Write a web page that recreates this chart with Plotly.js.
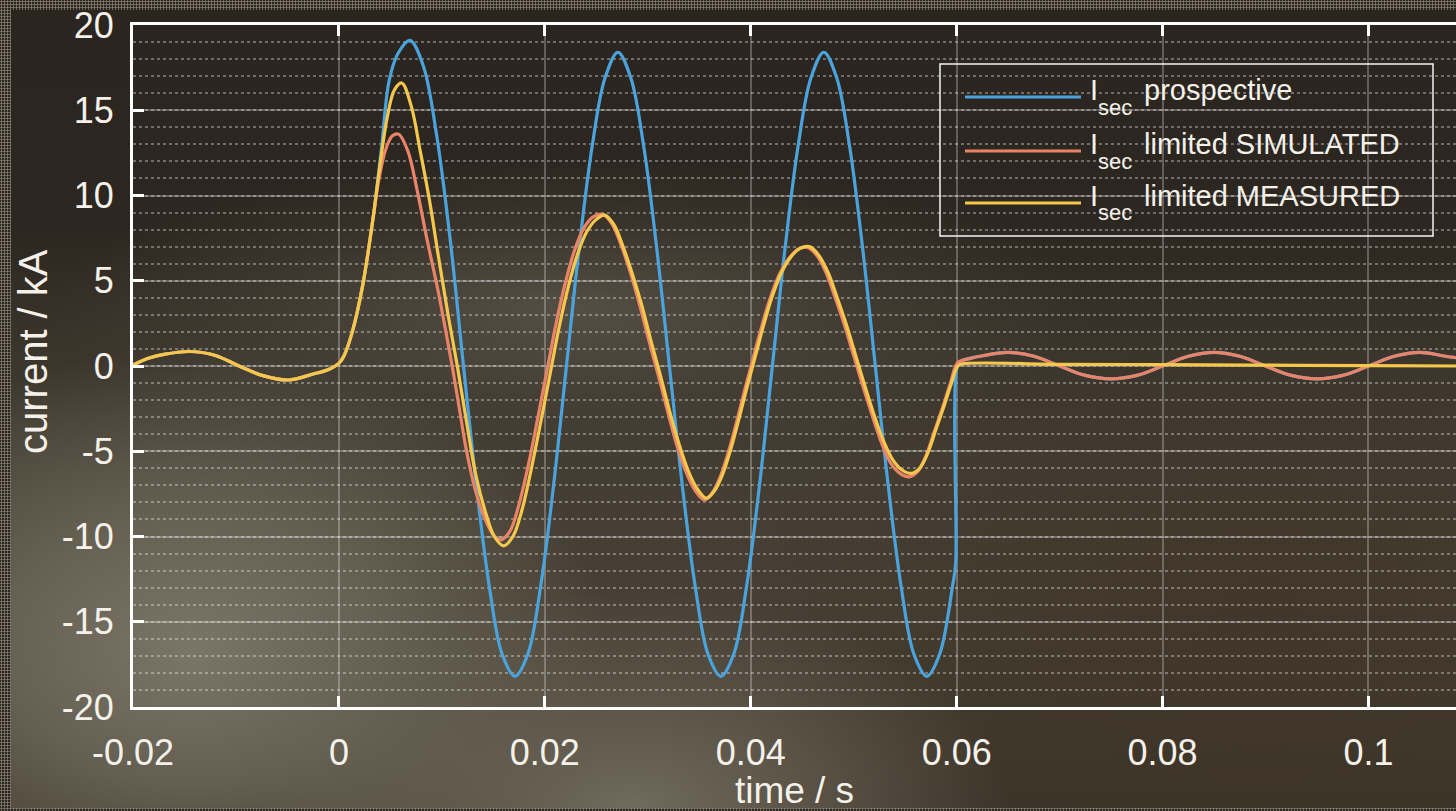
<!DOCTYPE html>
<html>
<head>
<meta charset="utf-8">
<script src="https://cdn.plot.ly/plotly-3.0.1.min.js"></script>
<style>
  html, body { margin:0; padding:0; width:1456px; height:811px; overflow:hidden; }
  body {
    background-color:#2a251f;
    background-image: radial-gradient(circle, rgba(205,195,175,0.55) 0.9px, rgba(0,0,0,0) 1.3px);
    background-size:3px 3px;
  }
  #bg {
    position:absolute; left:11px; top:10px; right:0; bottom:3px;
    background:
      radial-gradient(ellipse 420px 300px at 180px 640px, rgba(125,121,105,0.95) 0%, rgba(112,108,93,0.75) 45%, rgba(100,95,82,0) 100%),
      radial-gradient(ellipse 380px 220px at 620px 800px, rgba(118,113,99,0.9) 0%, rgba(110,104,90,0.5) 55%, rgba(100,95,82,0) 100%),
      radial-gradient(ellipse 520px 150px at 560px 300px, rgba(95,88,76,0.75) 0%, rgba(80,74,63,0.35) 60%, rgba(80,74,63,0) 100%),
      radial-gradient(ellipse 520px 280px at 1250px 600px, rgba(62,51,38,0.75) 0%, rgba(62,51,38,0) 100%),
      linear-gradient(180deg, #2b2520 0%, #2d2721 28%, #3a342b 42%, #443d32 58%, #473f33 75%, #3d3429 100%);
  }
  #chart { position:absolute; left:0; top:0; width:1456px; height:811px; }
</style>
</head>
<body>
<div id="bg"></div>
<div id="chart"></div>
<script>
// ---------- data ----------
const seriesNames = ['I sec prospective', 'I sec limited SIMULATED', 'I sec limited MEASURED'];
const legendMain = ['prospective', 'limited SIMULATED', 'limited MEASURED'];
const legendSymbol = 'I';
const legendSub = 'sec';

// common part: before fault and beginning of rise (time / s, current / kA)
const tCommon = [-0.02, -0.0185, -0.017, -0.0145, -0.012, -0.0097, -0.0073, -0.0049, -0.0025, -0.001, 0, 0.0005, 0.0013, 0.0023, 0.0033];
const iCommon = [0.05, 0.45, 0.68, 0.85, 0.62, 0.0, -0.58, -0.82, -0.47, -0.2, 0.15, 0.6, 2.0, 4.7, 8.6];

// prospective current after rise
const tProspective = [0.0041, 0.0049, 0.0058, 0.0069, 0.0082, 0.0095, 0.01085, 0.0121, 0.01335, 0.0146, 0.01585, 0.0171,
  0.01835, 0.0196, 0.02085, 0.0221, 0.02335, 0.0246, 0.02585, 0.0271, 0.02835, 0.0296, 0.03085, 0.0321, 0.03335, 0.0346, 0.03585, 0.0371,
  0.03835, 0.0396, 0.04085, 0.0421, 0.04335, 0.0446, 0.04585, 0.0471, 0.04835, 0.0496, 0.05085, 0.0521, 0.05335, 0.0546, 0.05585, 0.0571,
  0.05835, 0.0596, 0.0599, 0.0600, 0.0604, 0.0625, 0.065, 0.0675, 0.07, 0.0725, 0.075, 0.0775, 0.08, 0.0825, 0.085, 0.0875,
  0.09, 0.0925, 0.095, 0.0975, 0.1, 0.1025, 0.105, 0.1075, 0.109];
const iProspective = [12.6, 16.8, 18.4, 19.1, 17.6, 13.5, 7.2, 0, -7.0, -12.9, -16.9, -18.2,
  -16.9, -12.9, -7.0, 0, 7.0, 12.9, 16.9, 18.4, 16.9, 12.9, 7.0, 0, -7.0, -12.9, -16.9, -18.2,
  -16.9, -12.9, -7.0, 0, 7.0, 12.9, 16.9, 18.4, 16.9, 12.9, 7.0, 0, -7.0, -12.9, -16.9, -18.2,
  -16.9, -12.9, -11.6, -0.2, 0.25, 0.6, 0.8, 0.57, 0, -0.55, -0.75, -0.55, 0, 0.57, 0.8, 0.57,
  0, -0.55, -0.75, -0.55, 0, 0.57, 0.8, 0.57, 0.45];

// limited current, simulated
const tSimulated = [0.0039, 0.0046, 0.0052, 0.0058, 0.0067, 0.0076, 0.0086, 0.0096, 0.0103, 0.011, 0.0117, 0.0124, 0.0133, 0.0142, 0.015,
  0.0157, 0.0166, 0.0175, 0.0184, 0.0193, 0.0202, 0.0211, 0.022, 0.0229, 0.0238, 0.0247, 0.0256, 0.0265, 0.0274, 0.0283, 0.0292,
  0.0301, 0.031, 0.0319, 0.0328, 0.0337, 0.0346, 0.0355, 0.0363, 0.0371, 0.0379, 0.0387, 0.0395, 0.0403, 0.0411, 0.0419, 0.0428,
  0.0437, 0.0446, 0.0455, 0.0464, 0.0473, 0.0482, 0.0491, 0.05, 0.0509, 0.0518, 0.0527, 0.0536, 0.0545, 0.0554, 0.0562, 0.057,
  0.0578, 0.0586, 0.0594, 0.0601, 0.0612, 0.0625, 0.065, 0.0675, 0.07, 0.0725, 0.075, 0.0775, 0.08, 0.0825, 0.085, 0.0875,
  0.09, 0.0925, 0.095, 0.0975, 0.1, 0.1025, 0.105, 0.1075, 0.109];
const iSimulated = [11.0, 12.8, 13.5, 13.6, 12.6, 10.3, 7.3, 4.5, 2.3, 0, -2.5, -5.0, -7.4, -9.0, -9.9,
  -10.2, -9.7, -8.1, -5.8, -3.1, -0.3, 2.5, 4.9, 6.8, 8.1, 8.75, 8.9, 8.35, 7.1, 5.5, 3.6,
  1.5, -0.5, -2.6, -4.6, -6.2, -7.3, -7.85, -7.4, -6.4, -4.9, -3.1, -1.2, 0.6, 2.4, 4.0, 5.4,
  6.3, 6.85, 6.95, 6.5, 5.5, 4.0, 2.4, 0.6, -1.2, -2.9, -4.5, -5.7, -6.3, -6.5, -6.2, -5.3,
  -3.9, -2.5, -1.0, 0.2, 0.42, 0.6, 0.8, 0.57, 0, -0.55, -0.75, -0.55, 0, 0.57, 0.8, 0.57,
  0, -0.55, -0.75, -0.55, 0, 0.57, 0.8, 0.57, 0.45];

// limited current, measured
const tMeasured = [0.0039, 0.0047, 0.0054, 0.0061, 0.007, 0.0079, 0.0088, 0.0097, 0.0106, 0.0115, 0.0124, 0.0133, 0.0143, 0.0151, 0.016,
  0.0169, 0.0178, 0.0187, 0.0196, 0.0205, 0.0214, 0.0223, 0.0232, 0.0241, 0.025, 0.0258, 0.0267, 0.0276, 0.0285, 0.0294, 0.0303,
  0.0312, 0.0321, 0.033, 0.0339, 0.0348, 0.0357, 0.0365, 0.0373, 0.0381, 0.0389, 0.0397, 0.0405, 0.0413, 0.0421, 0.043, 0.0439,
  0.0448, 0.0457, 0.0466, 0.0475, 0.0484, 0.0493, 0.0502, 0.0511, 0.052, 0.0529, 0.0538, 0.0547, 0.0556, 0.0564, 0.0572, 0.058,
  0.0588, 0.0595, 0.0601, 0.0605, 0.07, 0.08, 0.09, 0.1, 0.109];
const iMeasured = [11.4, 14.6, 16.2, 16.6, 15.3, 12.6, 9.7, 6.3, 3.0, 0, -3.3, -6.4, -8.7, -10.0, -10.55,
  -10.0, -8.4, -6.0, -3.3, -0.5, 2.3, 4.7, 6.6, 7.9, 8.6, 8.85, 8.3, 7.0, 5.4, 3.6, 1.5,
  -0.5, -2.6, -4.5, -6.1, -7.2, -7.75, -7.3, -6.3, -4.8, -3.0, -1.1, 0.7, 2.5, 4.1, 5.5, 6.4,
  6.9, 7.0, 6.5, 5.5, 4.0, 2.4, 0.6, -1.2, -2.9, -4.4, -5.5, -6.1, -6.3, -6.0, -5.1, -3.7,
  -2.3, -1.0, 0.0, 0.12, 0.1, 0.08, 0.05, 0.02, 0.0];

const xTickVals = [-0.02, 0, 0.02, 0.04, 0.06, 0.08, 0.1];
const xTickText = ['-0.02', '0', '0.02', '0.04', '0.06', '0.08', '0.1'];
const yTickVals = [-20, -15, -10, -5, 0, 5, 10, 15, 20];
const yTickText = ['-20', '-15', '-10', '-5', '0', '5', '10', '15', '20'];
const xTitle = 'time / s';
const yTitle = 'current / kA';

// ---------- styles ----------
const colors = ['#4aa3dc', '#ea8468', '#f5c84c'];
const FONT = 'Arial, "Liberation Sans", Helvetica, sans-serif';
const TXT = '#f4f1ea';

const xs = [tCommon.concat(tProspective), tCommon.concat(tSimulated), tCommon.concat(tMeasured)];
const ys = [iCommon.concat(iProspective), iCommon.concat(iSimulated), iCommon.concat(iMeasured)];

const traces = xs.map((x, k) => ({
  type: 'scatter', mode: 'lines', x: x, y: ys[k], name: seriesNames[k], showlegend: false,
  line: { color: colors[k], width: 3.2, shape: 'spline', smoothing: 1 }, hoverinfo: 'skip'
}));

// custom legend (paper coordinates; plot area is 1323 x 682 px)
const px2x = p => (p - 133) / 1323;
const py2y = p => (707 - p) / 682;
const shapes = [{
  type: 'rect', xref: 'paper', yref: 'paper', x0: px2x(940), x1: px2x(1433), y0: py2y(236), y1: py2y(64),
  line: { color: 'rgba(255,255,255,0.95)', width: 1.5 }, fillcolor: 'rgba(0,0,0,0)'
}];
const annotations = [];
const rowLinePy = [97, 151, 203];
rowLinePy.forEach((lp, k) => {
  shapes.push({ type: 'line', xref: 'paper', yref: 'paper', x0: px2x(965), x1: px2x(1081), y0: py2y(lp), y1: py2y(lp),
    line: { color: colors[k], width: 3.2 } });
  annotations.push({ xref: 'paper', yref: 'paper', x: px2x(1088), y: py2y(lp - 7), xanchor: 'left', yanchor: 'middle',
    text: legendSymbol, showarrow: false, font: { family: FONT, size: 29, color: TXT } });
  annotations.push({ xref: 'paper', yref: 'paper', x: px2x(1096), y: py2y(lp + 10), xanchor: 'left', yanchor: 'middle',
    text: legendSub, showarrow: false, font: { family: FONT, size: 22, color: TXT } });
  annotations.push({ xref: 'paper', yref: 'paper', x: px2x(1142), y: py2y(lp - 7), xanchor: 'left', yanchor: 'middle',
    text: legendMain[k], showarrow: false, font: { family: FONT, size: 29, color: TXT } });
});
// y axis title placed as in the reference
annotations.push({ xref: 'paper', yref: 'paper', x: px2x(33), y: py2y(352), xanchor: 'center', yanchor: 'middle',
  text: yTitle, textangle: -90, showarrow: false, font: { family: FONT, size: 40, color: TXT } });

const axisCommon = {
  showline: true, linecolor: '#ffffff', linewidth: 3,
  ticks: 'inside', ticklen: 11, tickwidth: 3, tickcolor: '#ffffff',
  tickfont: { family: FONT, size: 36, color: TXT },
  showgrid: true, gridcolor: 'rgba(255,255,255,0.26)', gridwidth: 2, zeroline: false
};

const layout = {
  width: 1456, height: 811,
  margin: { l: 133, r: 0, t: 25, b: 104 },
  paper_bgcolor: 'rgba(0,0,0,0)', plot_bgcolor: 'rgba(0,0,0,0)',
  showlegend: false,
  xaxis: Object.assign({}, axisCommon, {
    range: [-0.02, 0.1085], tickmode: 'array', tickvals: xTickVals, ticktext: xTickText,
    mirror: 'ticks', ticklabelstandoff: 12,
    title: { text: xTitle, font: { family: FONT, size: 37, color: TXT }, standoff: 6 }
  }),
  yaxis: Object.assign({}, axisCommon, {
    range: [-20, 20], tickmode: 'array', tickvals: yTickVals, ticktext: yTickText,
    mirror: false, ticklabelstandoff: 9,
    minor: { dtick: 1, showgrid: true, gridcolor: 'rgba(255,255,255,0.33)', gridwidth: 2, griddash: '3px,3px', ticks: '' }
  }),
  shapes: shapes,
  annotations: annotations
};

Plotly.newPlot('chart', traces, layout, { staticPlot: true, displayModeBar: false });
</script>
</body>
</html>
